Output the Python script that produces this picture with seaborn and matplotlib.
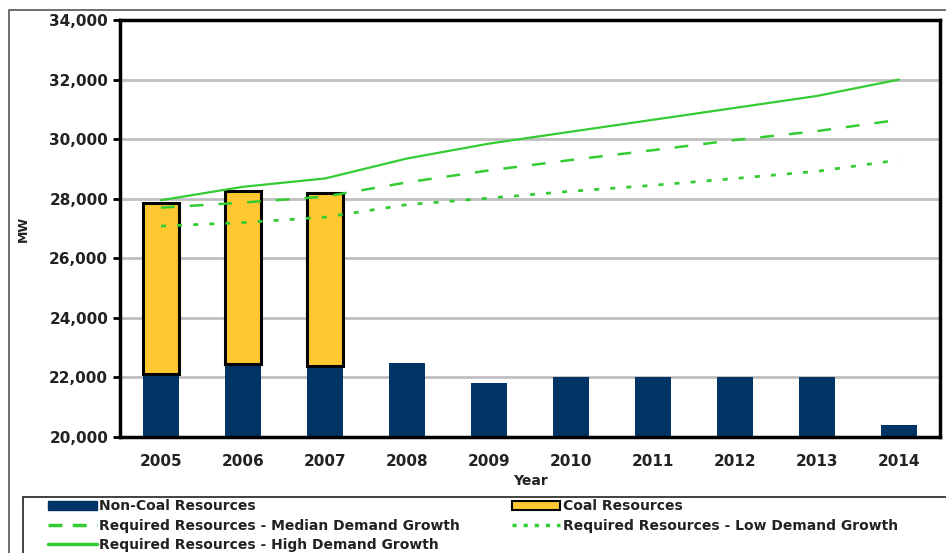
import matplotlib
matplotlib.use('Agg')
import matplotlib.pyplot as plt
import matplotlib.patches as mpatches
from matplotlib.lines import Line2D
import seaborn as sns
import pandas as pd

years = ['2005', '2006', '2007', '2008', '2009', '2010', '2011', '2012', '2013', '2014']
non_coal = [22100, 22450, 22400, 22500, 21800, 22000, 22000, 22000, 22000, 20400]
coal_total = [27870, 28270, 28200, None, None, None, None, None, None, None]
high_growth = [27950, 28400, 28680, 29350, 29850, 30250, 30650, 31050, 31450, 32000]
median_growth = [27700, 27870, 28070, 28550, 28950, 29300, 29630, 29970, 30270, 30650]
low_growth = [27080, 27200, 27380, 27800, 28020, 28250, 28450, 28680, 28920, 29300]

sns.set_theme(style="white")
plt.rcParams['font.family'] = ['DejaVu Sans']

navy = '#003366'
gold = '#FFC830'
green = '#33CC33'
text_col = '#222222'
ymin = 20000

df = pd.DataFrame({'Year': years, 'NonCoal': non_coal,
                   'Coal': [c - n if c is not None else 0 for c, n in zip(coal_total, non_coal)]})
df['idx'] = range(len(years))

fig = plt.figure(figsize=(9.46, 5.53), dpi=100)
ax = fig.add_axes([120 / 946, 1 - 437 / 553, 820 / 946, 417 / 553])

# non-coal bars start at the axis floor
sns.barplot(data=df, x='Year', y=df['NonCoal'] - ymin, bottom=ymin, color=navy,
            width=0.44, saturation=1, ax=ax, linewidth=0)
coal = df[df['Coal'] > 0]
ax.bar(coal['idx'], coal['Coal'], bottom=coal['NonCoal'], width=0.44,
       color=gold, edgecolor='black', linewidth=2.2)

lines = pd.DataFrame({'idx': df['idx'], 'High': high_growth,
                      'Median': median_growth, 'Low': low_growth})
sns.lineplot(data=lines, x='idx', y='High', color=green, linewidth=1.6, ax=ax)
sns.lineplot(data=lines, x='idx', y='Median', color=green, linewidth=1.8, ax=ax,
             linestyle=(0, (5.5, 6)))
sns.lineplot(data=lines, x='idx', y='Low', color=green, linewidth=2, ax=ax,
             linestyle=(0, (1.8, 4)))

ax.set_ylim(20000, 34000)
ax.set_xlim(-0.5, 9.5)
ax.set_yticks(range(20000, 34001, 2000))
ax.set_yticklabels([f'{v:,}' for v in range(20000, 34001, 2000)],
                   fontsize=11, fontweight='bold', color=text_col)
ax.set_xticks(range(len(years)))
ax.set_xticklabels(years, fontsize=11, fontweight='bold', color=text_col)
ax.set_xticks([i + 0.5 for i in range(-1, len(years))], minor=True)
ax.tick_params(axis='x', which='major', length=0, pad=12)
ax.tick_params(axis='x', which='minor', length=5, width=2, direction='out', color='black')
ax.tick_params(axis='y', length=5, width=2, direction='out', color='black', left=True)
ax.yaxis.grid(True, color='#C0C0C0', linewidth=2)
ax.set_axisbelow(True)
for s in ax.spines.values():
    s.set_color('black')
    s.set_linewidth(2.5)
ax.set_xlabel('Year', fontsize=10, fontweight='bold', color=text_col)
ax.xaxis.set_label_coords(0.5, -(474 - 437) / 417)
ax.set_ylabel('MW', fontsize=9, fontweight='bold', color=text_col)
ax.yaxis.set_label_coords(-(120 - 30) / 820, 0.5)

# outer frame of the figure
fig.patches.append(mpatches.Rectangle((9 / 946, -0.01), 1, 1 - 10 / 553 + 0.01,
                                      transform=fig.transFigure, fill=False,
                                      edgecolor='#555555', linewidth=1.2))
# legend box
fig.patches.append(mpatches.Rectangle((23 / 946, -0.02), 1, 1 - 497 / 553 + 0.02,
                                      transform=fig.transFigure, fill=False,
                                      edgecolor='#333333', linewidth=1.3))

handles = [
    mpatches.Patch(facecolor=navy, edgecolor=navy),
    Line2D([], [], color=green, linewidth=2.5, linestyle=(0, (4, 3))),
    Line2D([], [], color=green, linewidth=2.5),
    mpatches.Patch(facecolor=gold, edgecolor='black', linewidth=1.5),
    Line2D([], [], color=green, linewidth=2.5, linestyle=(0, (1.2, 2))),
]
labels = [
    'Non-Coal Resources',
    'Required Resources - Median Demand Growth',
    'Required Resources - High Demand Growth',
    'Coal Resources',
    'Required Resources - Low Demand Growth',
]
leg = fig.legend(handles, labels, loc='upper left', bbox_to_anchor=(48 / 946, 1 - 499 / 553),
                 ncol=2, frameon=False, handlelength=3.5, handleheight=0.6,
                 handletextpad=0.2, columnspacing=3.7, labelspacing=0.4,
                 borderpad=0, borderaxespad=0,
                 prop={'weight': 'bold', 'size': 10})
for t in leg.get_texts():
    t.set_color(text_col)

fig.savefig('out.png', dpi=100)
